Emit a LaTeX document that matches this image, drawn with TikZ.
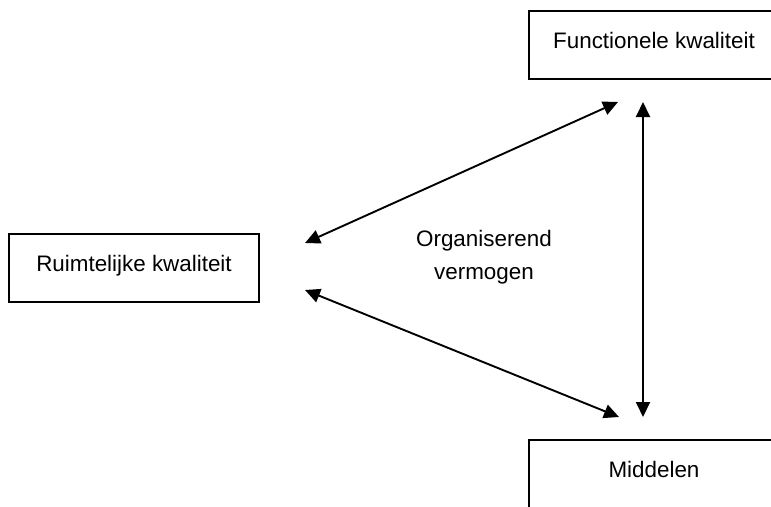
\documentclass[tikz,border=0pt]{standalone}
\usepackage{fontspec}
\setmainfont{Liberation Sans}
\usetikzlibrary{arrows.meta}

\begin{document}
\begin{tikzpicture}[x=1pt, y=-1pt, line width=1.5pt]
        \tikzstyle{every node}=[font=\fontsize{22.4}{33}\selectfont]
        \tikzstyle{kader}=[rectangle, draw, minimum width=250pt, minimum height=68pt, inner sep=0pt, text height=16pt, text depth=10pt]
        \tikzstyle{pijl}=[line width=1.9pt, {Triangle[length=15pt,width=14pt]}-{Triangle[length=15pt,width=14pt]}]
        \useasboundingbox (0,0) rectangle (771,506);
        	\node[kader] (Functie) at (654,45) {Functionele kwaliteit};
        	\node[kader] (Ruimte) at (134,268) {Ruimtelijke kwaliteit};
        	\node[kader] (Middel) at (654,474) {Middelen};
        	\node[align=center] (Vermogen) at (484,257.5) {Organiserend\\vermogen};
        	% pijlpunten
        	\coordinate (RuimteBoven) at (305,243);
        	\coordinate (RuimteOnder) at (305,290);
        	\coordinate (FunctieLinks) at (618,102);
        	\coordinate (FunctieRechts) at (643,102);
        	\coordinate (MiddelLinks) at (619,417);
        	\coordinate (MiddelRechts) at (643,417);
        	\draw[pijl] (RuimteBoven) -- (FunctieLinks);
        	\draw[pijl] (RuimteOnder) -- (MiddelLinks);
        	\draw[pijl] (FunctieRechts) -- (MiddelRechts);
		\end{tikzpicture}
\end{document}
